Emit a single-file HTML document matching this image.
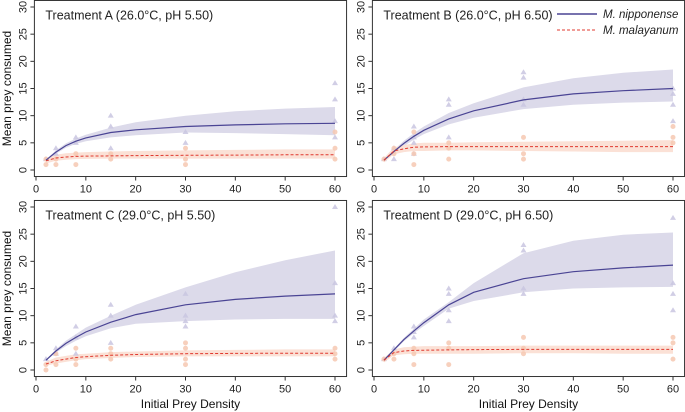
<!DOCTYPE html>
<html><head><meta charset="utf-8"><style>
html,body{margin:0;padding:0;background:#fff;}
svg{display:block;font-family:"Liberation Sans",Arial,sans-serif;}
</style></head><body>
<svg id="chart" width="685" height="412" viewBox="0 0 685 412"></svg>
<script>
const densities=[2,4,8,15,30,60];
const curveX=[2,4,6,8,10,15,20,30,40,50,60];
const titles=["Treatment A (26.0°C, pH 5.50)","Treatment B (26.0°C, pH 6.50)","Treatment C (29.0°C, pH 5.50)","Treatment D (29.0°C, pH 6.50)"];
const xTicks=[0,10,20,30,40,50,60];
const yTicks=[0,5,10,15,20,25,30];
// nipponense fitted curves at curveX
const nipFit=[[1.8,3.3,4.5,5.3,5.9,6.9,7.4,8.0,8.3,8.5,8.6],[1.8,3.4,4.9,6.2,7.3,9.4,10.9,12.9,14.0,14.6,15.0],[1.8,3.5,4.9,6.0,7.0,8.8,10.2,12.0,13.0,13.6,14.0],[1.8,3.7,5.6,7.2,8.7,12.0,14.3,16.8,18.1,18.8,19.3]];
const nipUp=[[1.9,3.6,4.9,5.8,6.5,7.8,8.8,10.0,10.8,11.3,11.6],[1.9,3.7,5.4,6.8,8.0,10.5,12.3,15.2,16.9,17.9,18.5],[1.9,3.8,5.4,6.6,7.8,10.0,12.0,15.2,18.0,20.2,22.0],[1.9,3.9,5.9,7.6,9.3,12.5,16.0,21.5,23.8,24.9,25.3]];
const nipLo=[[1.7,3.0,4.1,4.8,5.3,6.0,6.4,6.9,6.8,6.6,6.4],[1.7,3.1,4.4,5.6,6.6,8.4,9.6,11.2,12.0,12.4,12.6],[1.7,3.2,4.4,5.4,6.2,7.7,8.5,9.0,9.3,9.4,9.4],[1.7,3.5,5.3,6.8,8.1,11.3,12.7,14.3,15.0,15.2,15.3]];
const malFit=[[1.7,2.2,2.4,2.5,2.55,2.6,2.65,2.7,2.75,2.8,2.8],[1.8,3.5,3.9,4.2,4.25,4.3,4.3,4.3,4.3,4.3,4.3],[1.1,1.7,2.0,2.3,2.45,2.7,2.85,3.0,3.05,3.1,3.1],[1.8,3.2,3.5,3.6,3.65,3.7,3.75,3.8,3.8,3.8,3.8]];
const malUp=[[2.2,2.8,3.1,3.2,3.3,3.4,3.5,3.6,3.7,3.8,3.8],[2.2,4.2,4.6,4.9,5.0,5.0,5.1,5.2,5.3,5.4,5.5],[1.5,2.3,2.6,2.9,3.0,3.3,3.4,3.6,3.7,3.8,3.8],[2.2,3.8,4.2,4.3,4.4,4.4,4.4,4.5,4.5,4.5,4.5]];
const malLo=[[1.2,1.7,1.9,2.0,2.05,2.1,2.1,2.1,2.1,2.1,2.1],[1.4,2.9,3.3,3.5,3.5,3.6,3.6,3.5,3.4,3.3,3.3],[0.8,1.2,1.5,1.8,2.0,2.2,2.4,2.5,2.5,2.5,2.5],[1.4,2.7,2.9,3.0,3.0,3.0,3.0,3.1,3.1,3.0,3.0]];
// raw observations: per panel, per density, list of values
const nipObs=[[[2],[4,3],[6,5],[10,8,4],[7,5],[16,13,9,6]],[[2],[4,2],[8,6,5,3],[13,12,6],[18,17,13,12],[15,14,12,9]],[[2],[4,3],[8,6,3],[12,10,5],[14,10,9,8],[30,16,10,9]],[[2],[4],[8,7,6],[15,14,11,9],[23,22,15,14],[28,16,14,11]]];
const malObs=[[[1,2],[1,2],[1,3],[2,3],[1,2,4],[2,4,7]],[[2],[3,4],[1,3,7],[2,4,5],[2,3,6],[5,6,8]],[[0,1],[1,3],[1,2,4],[2,3,4],[1,2,4,5],[2,3,4]],[[2],[2,3],[1,3,4],[1,4,5],[3,4,6],[2,5,6]]];

const NS="http://www.w3.org/2000/svg";
const svg=document.getElementById('chart');
function mk(tag,attrs,parent){const e=document.createElementNS(NS,tag);for(const k in attrs)e.setAttribute(k,attrs[k]);(parent||svg).appendChild(e);return e;}
const panels=[{x0:36,x1:335,y0:170,y1:7},{x0:374,x1:673,y0:170,y1:7},{x0:36,x1:335,y0:370,y1:207},{x0:374,x1:673,y0:370,y1:207}];
const letters=['a','b','c','d'];
panels.forEach((p,i)=>{
  const sx=v=>p.x0+(p.x1-p.x0)*v/60;
  const sy=v=>p.y0+(p.y1-p.y0)*v/30;
  const g=mk('g',{});
  
  
  const line=(arr)=>arr.map((v,j)=>(j?'L':'M')+sx(curveX[j]).toFixed(1)+','+sy(v).toFixed(1)).join('');
  const band=(up,lo)=>line(up)+lo.slice().reverse().map((v,j)=>'L'+sx(curveX[lo.length-1-j]).toFixed(1)+','+sy(v).toFixed(1)).join('')+'Z';
  const b1=mk('path',{d:band(nipUp[i],nipLo[i]),fill:'#dcdaea'},g);
  
  
  const b2=mk('path',{d:band(malUp[i],malLo[i]),fill:'#fbe1d6'},g);
  
  
  densities.forEach((d,k)=>{
    nipObs[i][k].forEach(v=>{
      const cx=sx(d),cy=sy(v);
      const t=mk('path',{d:`M${cx},${cy-3}L${cx+3},${cy+2}L${cx-3},${cy+2}Z`,fill:'#c9c6e0',opacity:'0.85'},g);
      
      
    });
    malObs[i][k].forEach(v=>{
      const c=mk('circle',{cx:sx(d),cy:sy(v),r:2.5,fill:'#f6c8b2',opacity:'0.85'},g);
      
      
    });
  });
  const l1=mk('path',{d:line(nipFit[i]),fill:'none',stroke:'#4a4494','stroke-width':1.2},g);
  
  
  const l2=mk('path',{d:line(malFit[i]),fill:'none',stroke:'#e0392f','stroke-width':1,'stroke-dasharray':'3,2'},g);
  
  
  const bl=sx(-0.32),br=sx(62.32),bt=sy(31.2),bb=sy(-1.2);
  const box=mk('rect',{x:bl,y:bt,width:br-bl,height:bb-bt,fill:'none',stroke:'#333','stroke-width':1},g);
  
  
  xTicks.forEach(v=>{
    mk('line',{x1:sx(v),x2:sx(v),y1:bb,y2:bb+4,stroke:'#333'},g);
    const t=mk('text',{x:sx(v),y:bb+16,'text-anchor':'middle','font-size':11,fill:'#222'},g);
    t.textContent=v;
    
    
  });
  yTicks.forEach(v=>{
    mk('line',{x1:bl,x2:bl-4,y1:sy(v),y2:sy(v),stroke:'#333'},g);
    const t=mk('text',{x:bl-8,y:sy(v),'text-anchor':'middle','font-size':11,fill:'#222',transform:`rotate(-90 ${bl-8} ${sy(v)})`},g);
    t.textContent=v;
    
    
  });
  const tt=mk('text',{x:bl+11,y:bt+19,'font-size':12.5,fill:'#222'},g);
  tt.textContent=titles[i];
  
  
  if(i%2===0){
    const cy=(bt+bb)/2;
    const yt=mk('text',{x:11,y:cy,'text-anchor':'middle','font-size':12,fill:'#111',transform:`rotate(-90 11 ${cy})`},g);
    yt.textContent='Mean prey consumed';
    
    
  }
  if(i>=2){
    const xt=mk('text',{x:(bl+br)/2,y:408,'text-anchor':'middle','font-size':12,fill:'#111'},g);
    xt.textContent='Initial Prey Density';
    
    
  }
});
const lg=mk('g',{});


mk('line',{x1:557,x2:597,y1:14,y2:14,stroke:'#4a4494','stroke-width':1.4},lg);
mk('line',{x1:557,x2:597,y1:30,y2:30,stroke:'#e0392f','stroke-width':1,'stroke-dasharray':'3,2'},lg);
const e1=mk('text',{x:603,y:18,'font-size':11.5,'font-style':'italic',fill:'#222'},lg);
e1.textContent='M. nipponense';


const e2=mk('text',{x:603,y:34,'font-size':11.5,'font-style':'italic',fill:'#222'},lg);
e2.textContent='M. malayanum';


</script>
</body></html>
